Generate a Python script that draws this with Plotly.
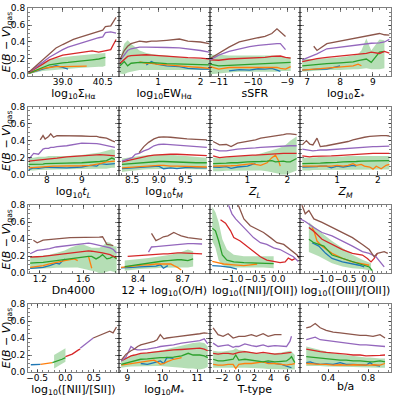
import numpy as np
import plotly.graph_objects as go
from plotly.subplots import make_subplots

COLORS = {"blue": "#1f77b4", "orange": "#ff7f0e", "green": "#2ca02c",
          "red": "#d62728", "purple": "#9467bd", "brown": "#8c564b"}
BAND = "rgba(44,160,44,0.35)"
ORDER = ["blue", "orange", "green", "red", "purple", "brown"]
N = None

# ---------------- data (grid-based panels) ----------------
SIGMA_HA = dict(
    x=[37.72, 38.0, 38.25, 38.5, 38.75, 39.0, 39.2, 39.4, 39.6, 39.9, 40.1, 40.35, 40.5, 40.6, 40.8, 41.0],
    brown=[0.04, 0.12, 0.19, 0.26, 0.33, 0.37, 0.40, 0.43, 0.45, 0.48, 0.50, 0.52, 0.54, 0.58, 0.59, 0.69],
    purple=[0.04, 0.10, 0.16, 0.22, 0.27, 0.31, 0.34, 0.36, 0.38, 0.41, 0.43, 0.45, 0.46, 0.51, 0.52, 0.505],
    red=[0.04, 0.09, 0.14, 0.19, 0.22, 0.245, 0.255, 0.265, 0.27, 0.285, 0.295, 0.28, 0.29, 0.30, 0.31, 0.43],
    green=[0.03, 0.07, 0.10, 0.13, 0.145, 0.155, 0.16, 0.165, 0.17, 0.18, 0.19, 0.20, 0.215, 0.22, N, N],
    lo=[0.02, 0.04, 0.06, 0.07, 0.08, 0.085, 0.09, 0.09, 0.095, 0.10, 0.10, 0.11, 0.11, 0.12, N, N],
    hi=[0.05, 0.11, 0.16, 0.19, 0.21, 0.22, 0.23, 0.235, 0.24, 0.25, 0.26, 0.27, 0.27, 0.27, N, N],
    orange=[0.03, 0.06, 0.09, 0.10, 0.11, 0.11, 0.11, 0.11, 0.11, 0.115, N, N, N, N, N, N],
    blue=[0.03, 0.06, 0.08, 0.10, 0.12, 0.10, 0.08, N, N, N, N, N, N, N, N, N],
)
EW_HA = dict(
    x=[0.1, 0.2, 0.28, 0.36, 0.56, 0.72, 0.84, 0.96, 1.2, 1.5, 1.7, 2.0, 2.2],
    brown=[0.195, 0.30, 0.35, 0.38, 0.41, 0.40, 0.41, 0.41, 0.42, 0.435, 0.41, 0.40, 0.38],
    purple=[0.18, 0.25, 0.30, 0.32, 0.34, 0.34, 0.34, 0.34, 0.335, 0.33, 0.32, 0.30, 0.28],
    red=[0.15, 0.20, 0.23, 0.24, 0.25, 0.25, 0.245, 0.24, 0.23, 0.22, 0.215, 0.21, 0.20],
    green=[0.12, 0.17, 0.12, 0.15, 0.16, 0.16, 0.155, 0.155, 0.145, 0.14, 0.135, 0.13, 0.13],
    lo=[0.03, 0.02, 0.04, 0.05, 0.07, 0.07, 0.07, 0.07, 0.07, 0.07, 0.07, 0.07, 0.07],
    hi=[0.20, 0.38, 0.42, 0.38, 0.30, 0.27, 0.26, 0.25, 0.24, 0.22, 0.21, 0.20, 0.19],
    orange=[N, N, N, N, 0.165, 0.15, 0.15, 0.14, 0.13, 0.115, 0.11, 0.10, 0.09],
    blue=[N, N, N, N, N, 0.13, 0.17, 0.14, 0.12, 0.11, 0.09, 0.08, 0.08],
)
SSFR = dict(
    x=[-11.25, -11.0, -10.7, -10.4, -10.1, -9.85, -9.65, -9.45, -9.3, -9.2, -9.05, -8.9],
    brown=[0.205, 0.27, 0.34, 0.40, 0.43, 0.45, 0.465, 0.50, 0.555, 0.52, 0.465, N],
    purple=[0.19, 0.245, 0.29, 0.32, 0.345, 0.36, 0.37, 0.375, 0.38, 0.38, 0.31, N],
    red=[0.19, 0.185, 0.20, 0.205, 0.21, 0.215, 0.22, 0.23, 0.235, 0.235, 0.22, 0.21],
    green=[0.14, 0.12, 0.125, 0.13, 0.135, 0.14, 0.145, 0.15, 0.15, 0.155, 0.16, 0.16],
    lo=[0.02, 0.03, 0.04, 0.05, 0.05, 0.05, 0.05, 0.05, 0.05, 0.06, 0.06, 0.06],
    hi=[0.25, 0.25, 0.24, 0.24, 0.24, 0.24, 0.24, 0.24, 0.24, 0.23, 0.22, 0.22],
    orange=[0.11, 0.08, 0.10, 0.10, 0.095, 0.095, 0.10, 0.10, 0.10, 0.09, 0.08, 0.11],
    blue=[N, N, 0.06, 0.075, 0.07, 0.085, 0.08, 0.09, 0.07, 0.055, N, N],
)
SIGMA_STAR = dict(
    x=[6.85, 7.2, 7.3, 7.6, 8.0, 8.4, 8.55, 8.65, 8.8, 8.95, 9.2, 9.35, 9.5],
    brown=[N, 0.35, 0.30, 0.38, 0.41, 0.44, 0.45, 0.455, 0.465, 0.48, 0.50, 0.485, 0.48],
    purple=[0.19, 0.245, 0.26, 0.32, 0.34, 0.36, 0.365, 0.37, 0.38, 0.385, 0.39, 0.40, 0.43],
    red=[0.17, 0.20, 0.205, 0.22, 0.235, 0.25, 0.255, 0.26, 0.265, 0.28, 0.265, 0.29, 0.27],
    green=[0.12, 0.135, 0.138, 0.145, 0.155, 0.165, 0.18, 0.19, 0.20, 0.16, 0.28, 0.29, N],
    lo=[0.05, 0.06, 0.06, 0.07, 0.07, 0.08, 0.08, 0.08, 0.09, 0.08, 0.08, 0.09, N],
    hi=[0.20, 0.20, 0.20, 0.21, 0.22, 0.24, 0.26, 0.30, 0.44, 0.30, 0.43, 0.42, N],
    orange=[0.07, 0.08, 0.08, 0.09, 0.10, 0.12, 0.14, 0.12, N, N, N, N, N],
    blue=[0.07, 0.08, 0.08, 0.08, 0.12, N, N, N, N, N, N, N, N],
)
T_L = dict(
    x=[7.48, 7.62, 7.76, 7.81, 7.89, 7.95, 8.05, 8.11, 8.19, 8.29, 8.57, 9.0, 9.24, 9.43, 9.52, 9.71, 9.86, 9.95],
    brown=[N, N, N, 0.41, 0.46, 0.42, 0.45, 0.48, 0.44, 0.46, 0.46, 0.455, 0.45, 0.45, 0.44, 0.43, 0.40, 0.385],
    purple=[0.18, 0.25, 0.24, 0.26, 0.30, 0.31, 0.31, 0.32, 0.32, 0.33, 0.34, 0.37, 0.37, 0.365, 0.36, 0.34, 0.33, 0.32],
    red=[0.16, 0.165, 0.17, 0.175, 0.18, 0.18, 0.185, 0.19, 0.19, 0.195, 0.21, 0.22, 0.23, 0.235, 0.235, 0.23, 0.225, 0.22],
    green=[0.12, 0.12, 0.125, 0.125, 0.125, 0.13, 0.13, 0.13, 0.13, 0.13, 0.135, 0.14, 0.145, 0.15, 0.155, 0.165, 0.195, 0.18],
    lo=[0.05, 0.05, 0.055, 0.06, 0.06, 0.06, 0.06, 0.06, 0.06, 0.06, 0.065, 0.07, 0.07, 0.07, 0.07, 0.07, 0.08, 0.08],
    hi=[0.20, 0.20, 0.21, 0.21, 0.21, 0.21, 0.22, 0.22, 0.22, 0.22, 0.22, 0.23, 0.24, 0.25, 0.26, 0.28, 0.30, 0.29],
    orange=[0.08, 0.085, 0.09, 0.09, 0.09, 0.095, 0.095, 0.10, 0.10, 0.10, 0.10, 0.105, 0.11, 0.12, 0.13, 0.15, 0.16, 0.16],
    blue=[0.06, 0.08, 0.075, 0.08, 0.08, 0.085, 0.085, 0.085, 0.085, 0.08, 0.08, 0.09, 0.11, 0.10, 0.13, 0.12, 0.125, 0.13],
)
T_M = dict(
    x=[8.31, 8.41, 8.5, 8.56, 8.63, 8.72, 8.81, 8.91, 9.0, 9.09, 9.22, 9.34, 9.53, 9.7, 9.9],
    brown=[N, N, N, N, 0.26, 0.33, 0.38, 0.42, 0.44, 0.445, 0.44, 0.43, 0.42, 0.415, 0.41],
    purple=[0.16, 0.18, 0.20, 0.24, 0.25, 0.28, 0.30, 0.34, 0.355, 0.36, 0.355, 0.35, 0.34, 0.33, 0.32],
    red=[0.15, 0.165, 0.18, 0.19, 0.20, 0.21, 0.22, 0.23, 0.235, 0.24, 0.24, 0.24, 0.235, 0.23, 0.225],
    green=[0.12, 0.125, 0.135, 0.14, 0.14, 0.145, 0.15, 0.155, 0.155, 0.155, 0.15, 0.15, 0.145, 0.14, 0.14],
    lo=[0.03, 0.04, 0.05, 0.05, 0.055, 0.06, 0.065, 0.07, 0.07, 0.07, 0.07, 0.07, 0.065, 0.06, 0.06],
    hi=[0.19, 0.20, 0.21, 0.215, 0.22, 0.225, 0.23, 0.235, 0.24, 0.24, 0.235, 0.23, 0.22, 0.21, 0.20],
    orange=[0.08, 0.085, 0.09, 0.09, 0.095, 0.10, 0.10, 0.105, 0.11, 0.11, 0.10, 0.10, 0.095, 0.09, 0.09],
    blue=[0.07, 0.075, 0.08, 0.08, 0.085, 0.09, 0.09, 0.10, 0.10, 0.07, 0.08, 0.07, 0.085, 0.08, 0.08],
)
Z_L = dict(
    x=[0.14, 0.3, 0.47, 0.59, 0.75, 1.0, 1.12, 1.2, 1.33, 1.49, 1.61, 1.7, 1.78, 1.82, 1.9, 1.98, 2.07, 2.23],
    brown=[0.39, 0.35, 0.355, 0.33, 0.37, 0.39, 0.40, 0.41, 0.43, 0.44, 0.45, 0.455, 0.46, 0.465, 0.47, 0.48, 0.48, 0.47],
    purple=[0.30, 0.28, 0.28, 0.29, 0.30, 0.31, 0.31, 0.315, 0.32, 0.325, 0.33, 0.33, 0.335, 0.335, 0.34, 0.34, 0.34, 0.34],
    red=[0.22, 0.20, 0.21, 0.215, 0.22, 0.225, 0.23, 0.23, 0.235, 0.24, 0.245, 0.245, 0.25, 0.25, 0.25, 0.25, 0.25, 0.25],
    green=[0.13, 0.13, 0.135, 0.14, 0.14, 0.15, 0.15, 0.15, 0.155, 0.16, 0.165, 0.15, 0.155, 0.16, 0.16, 0.15, 0.15, 0.19],
    lo=[0.04, 0.04, 0.045, 0.05, 0.05, 0.05, 0.05, 0.05, 0.05, 0.04, 0.03, 0.02, 0.01, 0.0, 0.0, 0.0, 0.02, 0.05],
    hi=[0.20, 0.20, 0.205, 0.21, 0.215, 0.22, 0.225, 0.23, 0.25, 0.27, 0.28, 0.30, 0.31, 0.32, 0.33, 0.36, 0.40, 0.45],
    orange=[0.10, 0.10, 0.10, 0.105, 0.11, 0.12, 0.13, 0.12, 0.11, 0.14, 0.20, 0.23, 0.16, 0.10, N, N, N, N],
    blue=[0.09, 0.085, 0.095, 0.075, 0.09, 0.10, 0.12, 0.13, N, N, N, N, N, N, N, N, N, N],
)
Z_M = dict(
    x=[0.15, 0.25, 0.33, 0.41, 0.51, 0.59, 0.74, 0.86, 1.0, 1.15, 1.27, 1.39, 1.47, 1.59, 1.67, 1.8, 1.88, 1.96, 2.08, 2.2, 2.28],
    brown=[0.35, 0.40, 0.36, 0.35, 0.43, 0.33, 0.34, 0.35, 0.36, 0.38, 0.39, 0.41, 0.42, 0.43, 0.44, 0.45, 0.455, 0.46, 0.46, 0.46, 0.455],
    purple=[0.30, 0.29, 0.28, 0.28, 0.285, 0.29, 0.29, 0.295, 0.30, 0.305, 0.31, 0.315, 0.32, 0.32, 0.325, 0.33, 0.33, 0.33, 0.335, 0.335, 0.335],
    red=[0.22, 0.215, 0.21, 0.215, 0.215, 0.22, 0.22, 0.22, 0.225, 0.23, 0.235, 0.24, 0.24, 0.245, 0.245, 0.25, 0.25, 0.25, 0.25, 0.25, 0.25],
    green=[0.13, 0.13, 0.13, 0.135, 0.135, 0.135, 0.14, 0.14, 0.145, 0.15, 0.15, 0.155, 0.155, 0.16, 0.16, 0.16, 0.165, 0.165, 0.165, 0.165, 0.165],
    lo=[0.05, 0.05, 0.05, 0.055, 0.055, 0.055, 0.06, 0.06, 0.06, 0.06, 0.06, 0.06, 0.06, 0.06, 0.06, 0.06, 0.06, 0.06, 0.06, 0.06, 0.06],
    hi=[0.20, 0.20, 0.20, 0.205, 0.205, 0.21, 0.21, 0.21, 0.215, 0.215, 0.22, 0.22, 0.22, 0.22, 0.22, 0.22, 0.22, 0.22, 0.22, 0.22, 0.22],
    orange=[0.10, 0.10, 0.10, 0.10, 0.10, 0.10, 0.10, 0.10, 0.11, 0.10, 0.11, 0.13, 0.11, 0.12, 0.10, 0.09, 0.065, 0.10, 0.07, 0.11, 0.12],
    blue=[0.09, 0.09, 0.09, 0.09, 0.095, 0.10, 0.10, 0.08, 0.10, 0.09, 0.10, 0.11, 0.10, N, N, N, N, N, N, N, N],
)
DN4000 = dict(
    x=[1.11, 1.14, 1.175, 1.23, 1.29, 1.35, 1.38, 1.43, 1.48, 1.52, 1.55, 1.6, 1.65, 1.68, 1.72, 1.75, 1.78, 1.82, 1.85, 1.88, 1.91],
    brown=[N, 0.39, 0.36, 0.39, 0.40, 0.405, 0.41, 0.415, 0.42, 0.42, 0.42, 0.42, 0.42, 0.42, 0.42, 0.425, 0.43, 0.34, 0.335, 0.325, N],
    purple=[0.23, 0.25, 0.27, 0.28, 0.29, 0.31, 0.315, 0.325, 0.335, 0.34, 0.345, 0.35, 0.355, 0.35, 0.34, 0.33, 0.32, 0.31, 0.30, 0.28, 0.24],
    red=[0.19, 0.19, 0.195, 0.20, 0.21, 0.22, 0.225, 0.235, 0.245, 0.25, 0.255, 0.265, 0.265, 0.26, 0.255, 0.25, 0.24, 0.23, 0.22, 0.20, 0.19],
    green=[0.12, 0.12, 0.125, 0.13, 0.14, 0.155, 0.16, 0.17, 0.18, 0.185, 0.19, 0.20, 0.20, 0.20, 0.17, 0.19, 0.22, 0.17, 0.18, 0.20, 0.17],
    lo=[0.05, 0.05, 0.055, 0.06, 0.06, 0.065, 0.07, 0.07, 0.07, 0.07, 0.07, 0.06, 0.04, 0.03, 0.02, 0.0, 0.0, 0.02, 0.03, 0.02, 0.0],
    hi=[0.20, 0.20, 0.205, 0.21, 0.22, 0.24, 0.25, 0.27, 0.30, 0.32, 0.33, 0.34, 0.32, 0.30, 0.30, 0.30, 0.32, 0.37, 0.36, 0.32, 0.32],
    orange=[0.07, 0.075, 0.08, 0.09, 0.11, 0.13, 0.14, 0.15, 0.16, 0.17, 0.15, N, 0.20, 0.06, N, N, N, N, N, N, N],
    blue=[0.06, 0.06, 0.065, 0.07, 0.09, 0.12, 0.11, 0.17, N, N, N, N, N, N, N, N, N, N, N, N, N],
)
OH = dict(
    x=[8.285, 8.31, 8.33, 8.365, 8.41, 8.44, 8.47, 8.49, 8.52, 8.55, 8.57, 8.6, 8.62, 8.64, 8.665, 8.69, 8.735, 8.77, 8.83],
    brown=[N, N, N, N, N, N, N, 0.47, 0.385, 0.41, 0.43, 0.44, 0.46, 0.48, 0.46, 0.44, 0.42, 0.41, 0.40],
    purple=[N, N, N, N, N, N, 0.25, 0.31, 0.315, 0.32, 0.325, 0.33, 0.335, 0.34, 0.34, 0.345, 0.35, 0.35, 0.345],
    red=[N, N, 0.20, 0.205, 0.21, 0.215, 0.22, 0.22, 0.225, 0.225, 0.23, 0.23, 0.235, 0.235, 0.24, 0.24, 0.235, 0.235, 0.23],
    green=[N, 0.08, 0.085, 0.095, 0.11, 0.12, 0.125, 0.13, 0.135, 0.14, 0.145, 0.15, 0.155, 0.16, 0.16, 0.16, 0.15, 0.17, N],
    lo=[N, 0.03, 0.035, 0.04, 0.05, 0.055, 0.06, 0.06, 0.06, 0.065, 0.065, 0.065, 0.07, 0.07, 0.07, 0.07, 0.07, 0.08, N],
    hi=[N, 0.15, 0.155, 0.16, 0.17, 0.175, 0.18, 0.185, 0.19, 0.20, 0.20, 0.21, 0.22, 0.23, 0.24, 0.25, 0.28, 0.26, N],
    orange=[0.07, 0.075, 0.08, 0.09, 0.095, 0.10, 0.10, 0.105, 0.11, 0.11, 0.11, 0.11, 0.11, 0.09, 0.07, 0.04, N, N, N],
    blue=[0.065, 0.065, 0.07, 0.07, 0.075, 0.08, 0.08, 0.085, 0.085, 0.10, 0.06, 0.09, N, N, N, N, N, N, N],
)
MSTAR = dict(
    x=[8.82, 8.96, 9.1, 9.2, 9.29, 9.38, 9.57, 9.66, 9.76, 9.85, 9.94, 10.04, 10.13, 10.32, 10.55, 10.74, 10.88, 11.07, 11.2, 11.3],
    brown=[0.14, 0.21, 0.25, 0.27, 0.30, 0.32, 0.34, 0.35, 0.36, 0.38, 0.44, 0.39, 0.40, 0.41, 0.42, 0.43, 0.44, 0.45, 0.46, 0.455],
    purple=[0.13, 0.18, 0.30, 0.27, 0.26, 0.26, 0.27, 0.275, 0.28, 0.29, 0.30, 0.305, 0.31, 0.32, 0.34, 0.35, 0.36, 0.37, 0.39, 0.33],
    red=[0.13, 0.16, 0.19, 0.20, 0.21, 0.22, 0.225, 0.23, 0.235, 0.24, 0.24, 0.245, 0.25, 0.26, 0.265, 0.27, 0.275, 0.28, 0.27, 0.25],
    green=[0.09, 0.105, 0.12, 0.13, 0.14, 0.15, 0.155, 0.16, 0.165, 0.17, 0.17, 0.17, 0.17, 0.175, 0.19, 0.22, 0.20, 0.20, 0.19, 0.17],
    lo=[0.05, 0.06, 0.065, 0.07, 0.07, 0.07, 0.07, 0.07, 0.07, 0.07, 0.07, 0.065, 0.06, 0.06, 0.05, 0.04, 0.04, 0.03, 0.04, 0.06],
    hi=[0.14, 0.17, 0.19, 0.20, 0.21, 0.22, 0.23, 0.235, 0.24, 0.245, 0.25, 0.26, 0.27, 0.29, 0.31, 0.33, 0.34, 0.35, 0.34, 0.30],
    orange=[0.08, 0.09, 0.10, 0.105, 0.11, 0.115, 0.13, 0.135, 0.14, 0.12, 0.09, 0.10, 0.12, 0.15, 0.17, N, N, N, N, N],
    blue=[N, N, N, N, N, 0.10, 0.09, 0.10, 0.11, 0.12, 0.13, 0.10, 0.17, 0.16, N, N, N, N, N, N],
)
TTYPE = dict(
    x=[-3.06, -2.45, -1.84, -1.22, -0.61, -0.29, 0.08, 0.82, 1.63, 2.24, 3.06, 3.67, 4.49, 5.31, 5.92, 6.33, 6.53, 6.94],
    brown=[0.52, 0.44, 0.42, 0.45, 0.40, 0.41, 0.42, 0.42, 0.44, 0.42, 0.45, 0.42, 0.44, 0.44, N, N, N, N],
    purple=[0.34, 0.30, 0.31, 0.32, 0.29, 0.30, 0.30, 0.33, 0.31, 0.30, 0.32, 0.30, 0.31, 0.30, 0.30, 0.36, 0.42, N],
    red=[0.22, 0.21, 0.22, 0.22, 0.21, 0.22, 0.23, 0.24, 0.23, 0.22, 0.23, 0.22, 0.21, 0.215, 0.22, 0.225, 0.23, N],
    green=[0.15, 0.13, 0.13, 0.14, 0.15, 0.20, 0.14, 0.15, 0.14, 0.13, 0.12, 0.13, 0.12, 0.125, 0.13, 0.16, 0.18, 0.11],
    lo=[0.05, 0.05, 0.05, 0.05, 0.05, 0.05, 0.05, 0.05, 0.05, 0.045, 0.04, 0.035, 0.03, 0.03, 0.03, 0.03, 0.03, 0.03],
    hi=[0.25, 0.24, 0.24, 0.25, 0.26, 0.28, 0.26, 0.25, 0.23, 0.22, 0.22, 0.22, 0.22, 0.23, 0.24, 0.25, 0.24, 0.20],
    orange=[0.09, 0.08, 0.08, 0.09, 0.09, 0.04, 0.09, 0.10, 0.10, 0.11, 0.12, 0.10, 0.10, 0.09, 0.08, 0.09, 0.09, 0.10],
    blue=[N, N, N, N, N, N, N, N, N, N, 0.12, 0.11, 0.10, 0.09, 0.07, 0.06, 0.05, N],
)
BA = dict(
    x=[0.18, 0.22, 0.27, 0.32, 0.38, 0.45, 0.52, 0.58, 0.65, 0.72, 0.78, 0.82, 0.85, 0.92, 0.97],
    brown=[0.52, 0.53, 0.57, 0.52, 0.49, 0.47, 0.46, 0.45, 0.44, 0.43, 0.43, 0.425, 0.42, 0.44, 0.40],
    purple=[0.38, 0.39, 0.41, 0.38, 0.37, 0.36, 0.35, 0.34, 0.33, 0.32, 0.32, 0.315, 0.31, 0.31, 0.30],
    red=[0.27, 0.26, 0.25, 0.24, 0.23, 0.225, 0.22, 0.21, 0.20, 0.20, 0.19, 0.19, 0.19, 0.195, 0.20],
    green=[0.18, 0.175, 0.17, 0.16, 0.15, 0.15, 0.14, 0.14, 0.13, 0.13, 0.12, 0.12, 0.12, 0.13, 0.12],
    lo=[0.07, 0.07, 0.07, 0.07, 0.065, 0.06, 0.06, 0.06, 0.06, 0.055, 0.05, 0.05, 0.05, 0.05, 0.05],
    hi=[0.30, 0.29, 0.28, 0.26, 0.24, 0.22, 0.21, 0.20, 0.19, 0.18, 0.17, 0.17, 0.165, 0.16, 0.16],
    orange=[0.10, 0.095, 0.09, 0.09, 0.09, 0.08, 0.085, 0.08, 0.085, 0.08, 0.08, 0.08, 0.085, 0.08, 0.10],
    blue=[0.11, 0.12, 0.10, 0.09, 0.095, 0.09, 0.11, 0.09, 0.09, 0.085, 0.08, 0.11, 0.085, 0.07, N],
)

# ---------------- data (per-line panels: (x, y); band: (x, lo, hi)) ----------------
N2O2 = dict(
    brown=([-0.93, -0.87, -0.75, -0.61, -0.46, -0.32, -0.17, -0.03, 0.12, 0.26, 0.41, 0.46],
           [0.88, 0.80, 0.64, 0.56, 0.52, 0.48, 0.42, 0.36, 0.34, 0.28, 0.215, 0.175]),
    purple=([-1.14, -1.08, -1.01, -0.93, -0.83, -0.68, -0.54, -0.39, -0.25, -0.1, 0.04, 0.19, 0.33, 0.44],
            [0.88, 0.80, 0.70, 0.64, 0.58, 0.50, 0.42, 0.36, 0.34, 0.30, 0.28, 0.235, 0.195, 0.14]),
    red=([-1.26, -1.15, -1.04, -0.97, -0.83, -0.68, -0.54, -0.39, -0.25, -0.1, 0.04, 0.15, 0.22, 0.3, 0.37],
         [0.63, 0.59, 0.50, 0.42, 0.38, 0.32, 0.255, 0.195, 0.155, 0.135, 0.125, 0.135, 0.18, 0.155, 0.175]),
    green=([-1.44, -1.37, -1.3, -1.22, -1.12, -0.97, -0.75, -0.54, -0.32, -0.1],
           [0.53, 0.50, 0.38, 0.215, 0.155, 0.135, 0.125, 0.12, 0.115, 0.115]),
    band=([-1.44, -1.37, -1.3, -1.22, -1.12, -0.97, -0.75, -0.54, -0.32, -0.1],
          [0.38, 0.30, 0.15, 0.10, 0.07, 0.07, 0.07, 0.07, 0.07, 0.06],
          [0.78, 0.72, 0.60, 0.40, 0.28, 0.22, 0.20, 0.20, 0.20, 0.20]),
    orange=([-1.44, -1.33, -1.19, -0.97, -0.75, -0.61, -0.46],
            [0.14, 0.13, 0.11, 0.10, 0.09, 0.10, 0.11]),
    blue=([-1.44, -1.26, -1.04, -0.9], [0.09, 0.085, 0.07, 0.05]),
)
O3O2 = dict(
    brown=([-1.5, -1.46, -1.39, -1.31, -1.2, -1.02, -0.8, -0.57, -0.35, -0.13, 0.02, 0.13, 0.2, 0.35, 0.43],
           [0.90, 0.80, 0.70, 0.74, 0.64, 0.60, 0.54, 0.48, 0.42, 0.34, 0.28, 0.195, 0.235, 0.255, 0.235]),
    purple=([-1.5, -1.39, -1.2, -1.02, -0.8, -0.57, -0.35, -0.13, 0.02, 0.17, 0.28, 0.35],
            [0.64, 0.61, 0.54, 0.48, 0.44, 0.38, 0.32, 0.255, 0.235, 0.195, 0.115, 0.075]),
    red=([-1.31, -1.17, -1.02, -0.8, -0.57, -0.35, -0.13, -0.02, 0.06, 0.13, 0.2],
         [0.54, 0.48, 0.40, 0.34, 0.28, 0.235, 0.215, 0.175, 0.135, 0.175, 0.235]),
    green=([-1.31, -1.2, -1.09, -0.98, -0.8, -0.57, -0.35, -0.13, 0.02, 0.09],
           [0.40, 0.36, 0.34, 0.32, 0.215, 0.175, 0.135, 0.10, 0.075, 0.03]),
    band=([-1.31, -1.09, -0.8, -0.57, -0.35, -0.13, 0.06],
          [0.25, 0.20, 0.12, 0.08, 0.06, 0.05, 0.03],
          [0.60, 0.50, 0.38, 0.30, 0.22, 0.16, 0.12]),
    orange=([-1.24, -1.2, -1.13, -1.02, -0.8, -0.57, -0.35, -0.13, 0.02],
            [0.54, 0.50, 0.38, 0.32, 0.235, 0.175, 0.135, 0.115, 0.095]),
    blue=([-1.24, -1.09, -0.94, -0.8, -0.57, -0.35, -0.2, -0.09],
          [0.36, 0.32, 0.235, 0.175, 0.135, 0.115, 0.095, 0.075]),
)
N2S2 = dict(
    blue=([-0.61, -0.44], [0.085, 0.09]),
    orange=([-0.44, -0.32, -0.23], [0.09, 0.10, 0.11]),
    green=([-0.23, -0.15, -0.06, 0.0], [0.11, 0.125, 0.15, 0.17]),
    band=([-0.2, -0.1, 0.0], [0.04, 0.08, 0.12], [0.20, 0.24, 0.28]),
    red=([0.0, 0.12, 0.23, 0.26], [0.18, 0.21, 0.26, 0.27]),
    purple=([0.26, 0.38, 0.49], [0.28, 0.34, 0.40]),
    brown=([0.49, 0.61, 0.73, 0.78, 0.84, 0.9], [0.40, 0.43, 0.46, 0.48, 0.46, 0.53]),
)

PANELS = [SIGMA_HA, EW_HA, SSFR, SIGMA_STAR, T_L, T_M, Z_L, Z_M,
          DN4000, OH, N2O2, O3O2, N2S2, MSTAR, TTYPE, BA]

XLABELS = ["log<sub>10</sub>Σ<sub>Hα</sub>", "log<sub>10</sub>EW<sub>Hα</sub>", "sSFR",
           "log<sub>10</sub>Σ<sub>*</sub>",
           "log<sub>10</sub><i>t<sub>L</sub></i>", "log<sub>10</sub><i>t<sub>M</sub></i>",
           "<i>Z<sub>L</sub></i>", "<i>Z<sub>M</sub></i>",
           "Dn4000", "12 + log<sub>10</sub>(O/H)", "log<sub>10</sub>([NII]/[OII])",
           "log<sub>10</sub>([OIII]/[OII])",
           "log<sub>10</sub>([NII]/[SII])", "log<sub>10</sub><i>M</i><sub>*</sub>", "T-type", "b/a"]
XTICKS = [[39.0, 40.5], [1, 2], [-11, -10, -9], [7, 8, 9],
          [8, 9], [8.5, 9.0, 9.5], [1, 2], [1, 2],
          [1.2, 1.6], [8.4, 8.7], [-1.0, -0.5, 0.0], [-1.0, -0.5, 0.0],
          [-0.5, 0.0, 0.5], [9, 10, 11], [-2, 0, 2, 4, 6], [0.4, 0.8]]
XTEXT = [["39.0", "40.5"], ["1", "2"], ["−11", "−10", "−9"], ["7", "8", "9"],
         ["8", "9"], ["8.5", "9.0", "9.5"], ["1", "2"], ["1", "2"],
         ["1.2", "1.6"], ["8.4", "8.7"], ["−1.0", "−0.5", "0.0"], ["−1.0", "−0.5", "0.0"],
         ["−0.5", "0.0", "0.5"], ["9", "10", "11"], ["−2", "0", "2", "4", "6"], ["0.4", "0.8"]]
XRANGES = [[37.7, 41.1], [0.07, 2.21], [-11.27, -8.62], [6.79, 9.55],
           [7.46, 10.06], [8.25, 9.95], [0.05, 2.32], [0.1, 2.32],
           [1.09, 1.93], [8.27, 8.88], [-1.5, 0.48], [-1.5, 0.5],
           [-0.66, 0.94], [8.75, 11.35], [-3.5, 7.6], [0.12, 1.03]]
YTICKS = [0.0, 0.2, 0.4, 0.6, 0.8]
YTEXT = ["0.0", "0.2", "0.4", "0.6", "0.8"]
YLABEL = "<i>E</i>(<i>B</i> − <i>V</i>)<sub>gas</sub>"


def panel_lines(p):
    out = {}
    if "x" in p:
        for c in ORDER:
            out[c] = (p["x"], p[c])
        band = (p["x"], p["lo"], p["hi"])
    else:
        for c in ORDER:
            out[c] = p[c]
        band = p["band"]
    return out, band


def minor_vals(ticks, rng):
    step = ticks[1] - ticks[0]
    mant = step / 10 ** np.floor(np.log10(step))
    nd = 5 if any(np.isclose(mant, [1.0, 2.5, 5.0, 10.0])) else 4
    ms = step / nd
    start = ticks[0] - np.ceil((ticks[0] - rng[0]) / ms) * ms
    vals = np.arange(start, rng[1] + 1e-9, ms)
    return [float(v) for v in vals]


fig = make_subplots(rows=4, cols=4, horizontal_spacing=0, vertical_spacing=0.0843)

FRAME = "rgba(0,0,0,0.5)"
FONT = "DejaVu Sans"

for i, p in enumerate(PANELS):
    r, c = i // 4 + 1, i % 4 + 1
    lines, band = panel_lines(p)
    bx, blo, bhi = band
    pts = [(x, l, h) for x, l, h in zip(bx, blo, bhi) if l is not None and h is not None]
    if pts:
        xs = [q[0] for q in pts]
        fig.add_trace(go.Scatter(x=xs + xs[::-1], y=[q[2] for q in pts] + [q[1] for q in pts][::-1],
                                 fill="toself", fillcolor=BAND, line=dict(width=0),
                                 mode="lines", hoverinfo="skip", showlegend=False), row=r, col=c)
    for col in ORDER:
        xs, ys = lines[col]
        fig.add_trace(go.Scatter(x=xs, y=ys, mode="lines",
                                 line=dict(color=COLORS[col], width=1.3),
                                 showlegend=False), row=r, col=c)
    fig.update_xaxes(row=r, col=c, range=XRANGES[i], tickvals=XTICKS[i], ticktext=XTEXT[i],
                     tickangle=0, ticklabelstandoff=-3,
                     ticks="inside", ticklen=3.5, tickcolor=FRAME, tickwidth=1,
                     showline=True, linecolor=FRAME, linewidth=1, mirror="allticks",
                     showgrid=False, zeroline=False,
                     minor=dict(tickvals=minor_vals(XTICKS[i], XRANGES[i]), ticks="inside",
                                ticklen=2, tickcolor=FRAME, showgrid=False),
                     tickfont=dict(family=FONT, size=9, color="black"),
                     title=dict(text=XLABELS[i], font=dict(family=FONT, size=11, color="black"),
                                standoff=0))
    yk = dict(range=[0, 0.8], tickvals=YTICKS, ticktext=YTEXT,
              showticklabels=(c == 1), tickangle=0,
              ticks="inside", ticklen=3.5, tickcolor=FRAME, tickwidth=1,
              showline=True, linecolor=FRAME, linewidth=1, mirror="allticks",
              showgrid=False, zeroline=False,
              minor=dict(tickvals=[0.05 * k for k in range(17)], ticks="inside",
                         ticklen=2, tickcolor=FRAME, showgrid=False),
              tickfont=dict(family=FONT, size=9, color="black"))
    if c == 1:
        yk["title"] = dict(text=YLABEL, font=dict(family=FONT, size=11, color="black"), standoff=0)
    fig.update_yaxes(row=r, col=c, **yk)

fig.update_layout(width=399, height=399, margin=dict(l=28, r=8, t=8, b=27),
                  plot_bgcolor="white", paper_bgcolor="white",
                  font=dict(family=FONT, color="black"))
fig.update_xaxes(automargin=False)
fig.update_yaxes(automargin=False)

fig.write_html("out.html", config={"displayModeBar": False},
               post_script="document.body.style.margin='0';document.body.style.overflow='hidden';")
